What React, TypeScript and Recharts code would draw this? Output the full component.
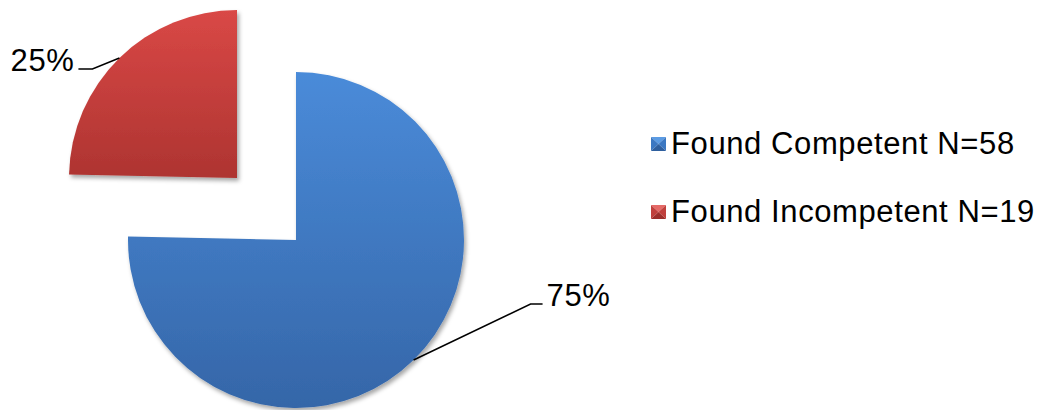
import { PieChart, Pie, Cell, Legend } from 'recharts'

const categories = ['Found Competent N=58', 'Found Incompetent N=19']
const counts = [58, 19]
const gradIds = ['gradBlue', 'gradRed']
const markerShades = [
  ['#5B9BE3', '#3C78C2', '#2F5F9E'],
  ['#E56A67', '#C0403D', '#9C2E2B'],
]

const data = categories.map((name, i) => ({ name, value: counts[i] }))

const FONT = '"Liberation Sans", Arial, sans-serif'
const RAD = Math.PI / 180

// leader line tweaks per slice (elbow offset from arc, horizontal tail)
const leaders = [
  { ex: 117, ey: -56, tail: 12, anchor: 'start' as const },
  { ex: -27, ey: 11, tail: -14, anchor: 'end' as const },
]

function makeLabel(only: number) {
  return function SliceLabel(props: any) {
    const { cx, cy, midAngle, outerRadius, percent, index } = props
    if (index !== only) return null
    const x0 = cx + outerRadius * Math.cos(-midAngle * RAD)
    const y0 = cy + outerRadius * Math.sin(-midAngle * RAD)
    const l = leaders[index]
    const x1 = x0 + l.ex
    const y1 = y0 + l.ey
    const x2 = x1 + l.tail
    const tx = x2 + (l.anchor === 'start' ? 4 : -4)
    return (
      <g>
        <polyline points={`${x0},${y0} ${x1},${y1} ${x2},${y1}`} fill="none" stroke="#000" strokeWidth={1.5} />
        <text
          x={tx}
          y={y1 + 2}
          textAnchor={l.anchor}
          fill="#000"
          style={{ fontSize: 31, fontFamily: FONT, letterSpacing: 0.6 }}
        >
          {Math.round(percent * 100)}%
        </text>
      </g>
    )
  }
}

function Marker({ i }: { i: number }) {
  const [light, mid, dark] = markerShades[i]
  return (
    <svg width={15} height={14} style={{ marginRight: 5, flexShrink: 0 }}>
      <polygon points="0,0 15,0 7.5,7" fill={light} />
      <polygon points="0,0 7.5,7 0,14" fill={mid} />
      <polygon points="15,0 7.5,7 15,14" fill={mid} />
      <polygon points="0,14 7.5,7 15,14" fill={dark} />
    </svg>
  )
}

function LegendBox() {
  return (
    <div style={{ fontFamily: FONT, fontSize: 31, color: '#000', letterSpacing: 0.6 }}>
      {categories.map((c, i) => (
        <div key={c} style={{ display: 'flex', alignItems: 'center', height: 34, marginBottom: i === 0 ? 34 : 0 }}>
          <Marker i={i} />
          <span>{c}</span>
        </div>
      ))}
    </div>
  )
}

export default function App() {
  return (
    <div style={{ position: 'absolute', left: 0, top: 0, width: 1041, height: 410, background: '#fff' }}>
      <PieChart width={1041} height={410} margin={{ top: 0, right: 0, bottom: 0, left: 0 }}>
        <defs>
          <linearGradient id="gradBlue" x1="0" y1="0" x2="0" y2="1">
            <stop offset="0%" stopColor="#4A8BD9" />
            <stop offset="100%" stopColor="#3566A8" />
          </linearGradient>
          <linearGradient id="gradRed" x1="0" y1="0" x2="0" y2="1">
            <stop offset="0%" stopColor="#D94846" />
            <stop offset="100%" stopColor="#AE3431" />
          </linearGradient>
          <filter id="shadow" x="-10%" y="-10%" width="125%" height="125%">
            <feDropShadow dx={2} dy={3} stdDeviation={2} floodColor="#000" floodOpacity={0.35} />
          </filter>
        </defs>
        <Pie
          data={data}
          dataKey="value"
          nameKey="name"
          cx={296}
          cy={240}
          outerRadius={168}
          startAngle={90}
          endAngle={-270}
          stroke="none"
          label={makeLabel(0)}
          labelLine={false}
          legendType="none"
          isAnimationActive={false}
        >
          {data.map((d, i) => (
            <Cell key={d.name} fill={i === 0 ? `url(#${gradIds[0]})` : 'none'} filter={i === 0 ? 'url(#shadow)' : undefined} />
          ))}
        </Pie>
        <Pie
          data={data}
          dataKey="value"
          nameKey="name"
          cx={237}
          cy={178}
          outerRadius={168}
          startAngle={90}
          endAngle={-270}
          stroke="none"
          label={makeLabel(1)}
          labelLine={false}
          legendType="none"
          isAnimationActive={false}
        >
          {data.map((d, i) => (
            <Cell key={d.name} fill={i === 1 ? `url(#${gradIds[1]})` : 'none'} filter={i === 1 ? 'url(#shadow)' : undefined} />
          ))}
        </Pie>
        <Legend
          layout="vertical"
          content={<LegendBox />}
          wrapperStyle={{ position: 'absolute', left: 651, top: 127, width: 390 }}
        />
      </PieChart>
    </div>
  )
}
